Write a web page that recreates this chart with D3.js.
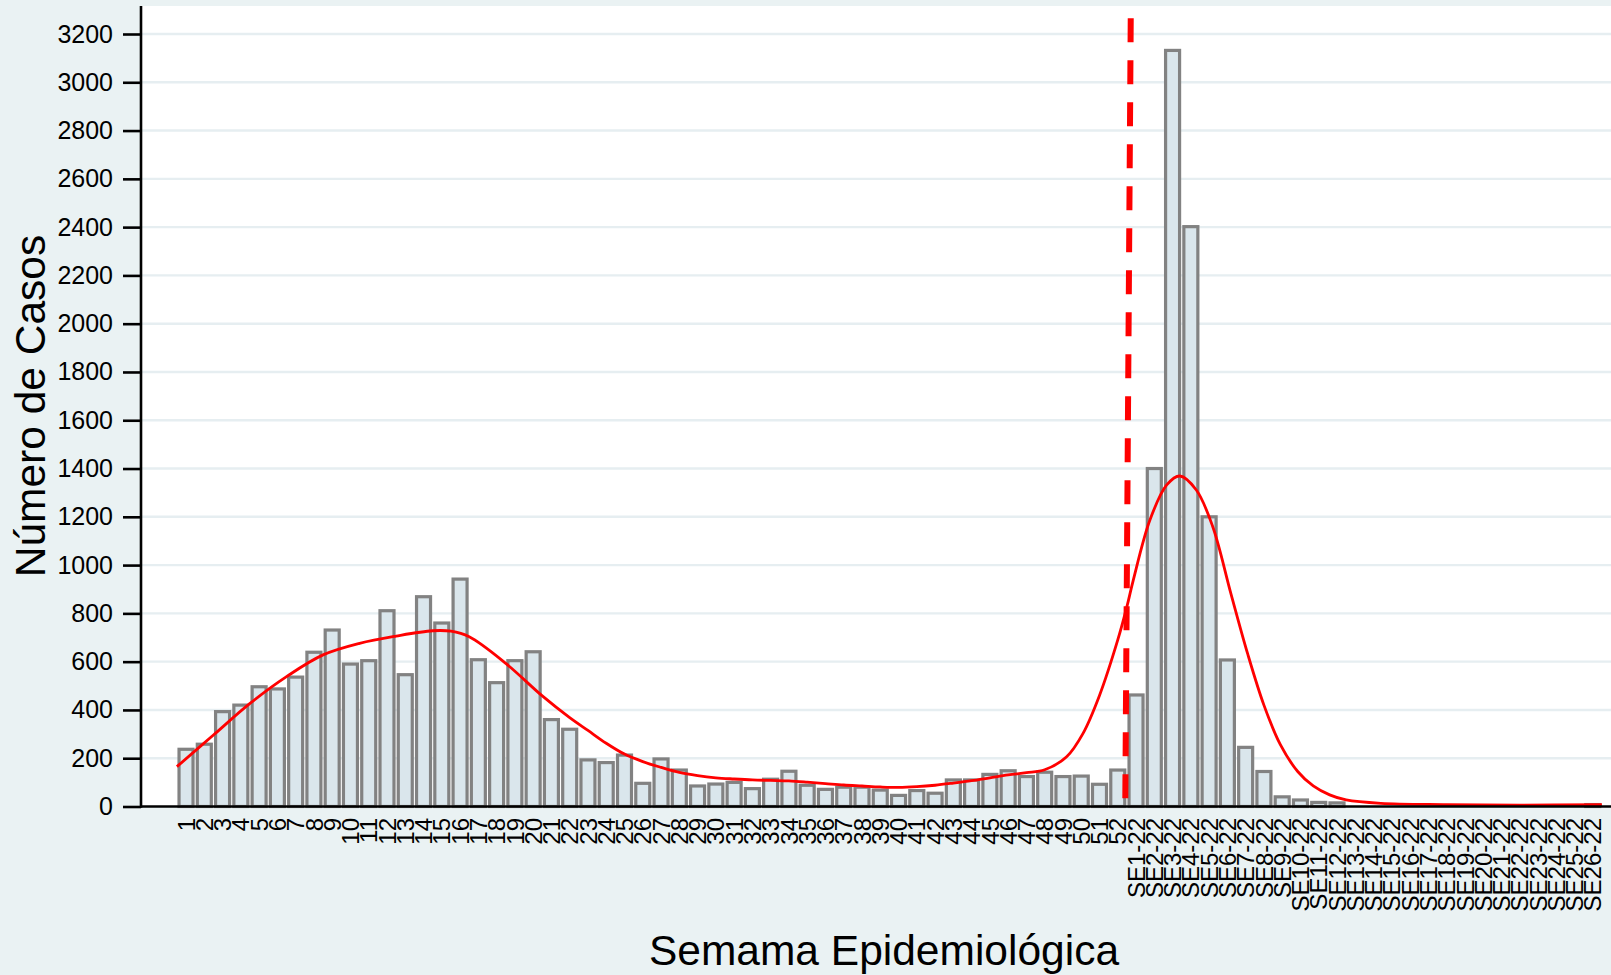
<!DOCTYPE html>
<html>
<head>
<meta charset="utf-8">
<script src="https://cdn.jsdelivr.net/npm/d3@7/dist/d3.min.js"></script>
<style>
  body { margin: 0; background: #eaf2f3; }
  svg { display: block; font-family: Arial, 'Liberation Sans', Helvetica, sans-serif; }
</style>
</head>
<body>
<svg width="1611" height="975"></svg>
<script>
// semanas epidemiologicas (2021 + 2022)
const semanas = [
  '1', '2', '3', '4', '5', '6', '7', '8', '9', '10', '11', '12', '13',
  '14', '15', '16', '17', '18', '19', '20', '21', '22', '23', '24', '25', '26',
  '27', '28', '29', '30', '31', '32', '33', '34', '35', '36', '37', '38', '39',
  '40', '41', '42', '43', '44', '45', '46', '47', '48', '49', '50', '51', '52',
  'SE1-22', 'SE2-22', 'SE3-22', 'SE4-22', 'SE5-22', 'SE6-22', 'SE7-22',
  'SE8-22', 'SE9-22', 'SE10-22', 'SE11-22', 'SE12-22', 'SE13-22', 'SE14-22',
  'SE15-22', 'SE16-22', 'SE17-22', 'SE18-22', 'SE19-22', 'SE20-22', 'SE21-22',
  'SE22-22', 'SE23-22', 'SE24-22', 'SE25-22', 'SE26-22'
];

const casos = [
  237, 258, 393, 420, 496, 487, 536, 639, 731, 590, 604, 811, 546,
  869, 760, 942, 608, 513, 604, 641, 360, 320, 193, 182, 213, 96,
  197, 151, 85, 93, 100, 74, 113, 146, 88, 71, 80, 80, 68,
  46, 66, 55, 110, 110, 133, 148, 124, 142, 124, 126, 92, 151,
  462, 1400, 3132, 2402, 1200, 607, 245,
  145, 40, 27, 17, 15, 0, 0,
  0, 0, 0, 0, 0, 0, 0,
  0, 0, 0, 0, 8
];

// curva suavizada (posicion = numero de barra, 1..78)
const curvaPos = [
  0.5, 2.5, 4.5, 6.5, 8.5, 10.5, 12.5, 14.5, 15.5, 16.5, 18.5, 20.5,
  22, 23, 24, 25, 26, 27, 28, 29, 30, 31, 32, 33, 34, 35, 36, 37, 38, 39,
  40, 41, 42, 43, 44, 45, 46, 47, 48, 49.2, 50.1, 51, 52, 52.5, 52.85,
  53.76, 54.68, 55.4, 56.3, 57.2, 58.2, 59.1, 60, 60.9, 61.85, 62.7,
  63.6, 64.5, 66.4, 70, 74, 78.5
];
const curvaVal = [
  165, 296, 427, 538, 628, 676, 706, 728, 726, 703, 593, 458,
  368, 315, 262, 217, 186, 162, 141, 128, 119, 114, 110, 108, 106, 101, 95, 89, 85, 81,
  79, 82, 88, 97, 107, 119, 131, 140, 152, 206, 303, 460, 690, 828, 938,
  1187, 1332, 1369, 1311, 1159, 880, 635, 420, 256, 145, 85,
  48, 27, 13, 8, 6, 8
];

// linea de corte (inicio 2022)
const cortePos = [52.71, 52.41];
const corteVal = [3265, 0];

const yTicks = [0, 200, 400, 600, 800, 1000, 1200, 1400, 1600, 1800, 2000,
  2200, 2400, 2600, 2800, 3000, 3200];

var svg = d3.select('svg');

var plotLeft = 141, plotRight = 1611, plotTop = 6, plotBottom = 806.5;

var x = d3.scaleBand()
  .domain(semanas)
  .range([176.9, 1601.9]);

var pos = d3.scaleLinear()
  .domain([1, semanas.length])
  .range([x(semanas[0]) + x.bandwidth() / 2, x(semanas[semanas.length - 1]) + x.bandwidth() / 2]);

var y = d3.scaleLinear()
  .domain([0, 3200])
  .range([plotBottom, 34]);

// fondo del grafico
svg.append('rect')
  .attr('width', 1611)
  .attr('height', 975)
  .attr('fill', '#eaf2f3');

svg.append('rect')
  .attr('x', plotLeft)
  .attr('y', plotTop)
  .attr('width', plotRight - plotLeft)
  .attr('height', plotBottom - plotTop)
  .attr('fill', '#ffffff');

// grilla
svg.append('g')
  .selectAll('line')
  .data(yTicks.filter((d) => d > 0))
  .enter()
  .append('line')
  .attr('x1', plotLeft)
  .attr('x2', plotRight)
  .attr('y1', (d) => y(d))
  .attr('y2', (d) => y(d))
  .attr('stroke', '#e6eef1')
  .attr('stroke-width', 2.4);

// barras
var barW = 14;
svg.append('g')
  .selectAll('rect')
  .data(semanas.map((s, i) => ({ s: s, v: casos[i] })).filter((d) => d.v > 0))
  .enter()
  .append('rect')
  .attr('x', (d) => x(d.s) + (x.step() - barW) / 2)
  .attr('y', (d) => y(d.v))
  .attr('width', barW)
  .attr('height', (d) => y(0) - y(d.v))
  .attr('fill', '#dae6ec')
  .attr('stroke', '#828282')
  .attr('stroke-width', 3.2);

// curva
var line = d3.line()
  .x((d) => pos(d[0]))
  .y((d) => y(d[1]))
  .curve(d3.curveCatmullRom.alpha(0.5));

svg.append('path')
  .datum(curvaPos.map((p, i) => [p, curvaVal[i]]))
  .attr('d', line)
  .attr('fill', 'none')
  .attr('stroke', '#ff0000')
  .attr('stroke-width', 2.8);

// linea de corte
svg.append('line')
  .attr('x1', pos(cortePos[0]))
  .attr('y1', y(corteVal[0]))
  .attr('x2', pos(cortePos[1]))
  .attr('y2', y(corteVal[1]))
  .attr('stroke', '#ff0000')
  .attr('stroke-width', 6)
  .attr('stroke-dasharray', '24 18');

// eje y
var yAxis = svg.append('g')
  .attr('transform', 'translate(' + plotLeft + ',0)')
  .call(d3.axisLeft(y).tickValues(yTicks).tickFormat(d3.format('d'))
    .tickSize(18).tickPadding(10).tickSizeOuter(0));

yAxis.select('.domain').remove();
yAxis.selectAll('line').attr('stroke', '#000').attr('stroke-width', 2.6);
yAxis.selectAll('text')
  .attr('font-size', 25)
  .attr('font-family', "Arial, 'Liberation Sans', Helvetica, sans-serif")
  .attr('fill', '#000');

svg.append('line')
  .attr('x1', plotLeft)
  .attr('x2', plotLeft)
  .attr('y1', plotTop)
  .attr('y2', plotBottom + 1.3)
  .attr('stroke', '#000')
  .attr('stroke-width', 2.6);

// eje x
var xAxis = svg.append('g')
  .attr('transform', 'translate(0,' + plotBottom + ')')
  .call(d3.axisBottom(x).tickSize(0).tickPadding(0).tickSizeOuter(0));

xAxis.select('.domain').remove();
xAxis.selectAll('text')
  .attr('transform', 'rotate(-90)')
  .attr('x', -11.5)
  .attr('y', 0)
  .attr('dy', '0.36em')
  .style('text-anchor', 'end')
  .attr('font-size', 24)
  .attr('font-family', "Arial, 'Liberation Sans', Helvetica, sans-serif")
  .attr('fill', '#000');

svg.append('line')
  .attr('x1', plotLeft)
  .attr('x2', plotRight)
  .attr('y1', plotBottom)
  .attr('y2', plotBottom)
  .attr('stroke', '#000')
  .attr('stroke-width', 2.6);

// titulos
svg.append('text')
  .attr('transform', 'translate(45,406) rotate(-90)')
  .attr('text-anchor', 'middle')
  .attr('font-size', 42.5)
  .attr('fill', '#000')
  .text('Número de Casos');

svg.append('text')
  .attr('x', 884)
  .attr('y', 965)
  .attr('text-anchor', 'middle')
  .attr('font-size', 42.5)
  .attr('fill', '#000')
  .text('Semama Epidemiológica');
</script>
</body>
</html>
